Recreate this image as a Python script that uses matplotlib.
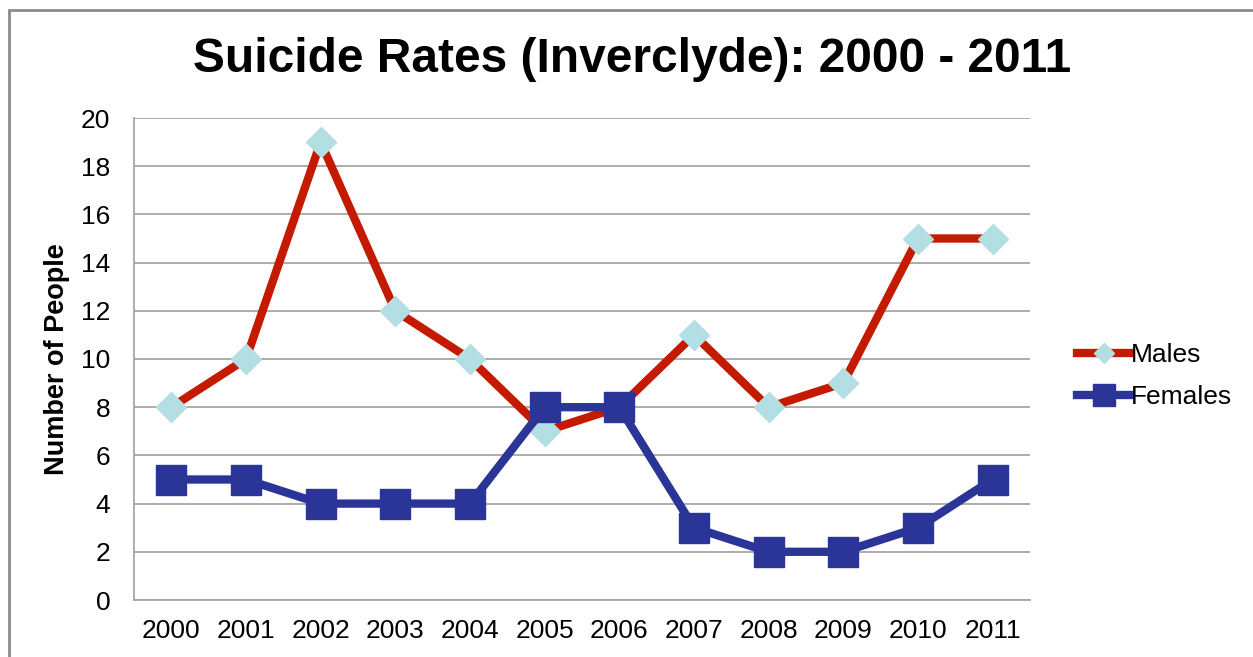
import matplotlib
matplotlib.use("Agg")
import matplotlib.pyplot as plt
from matplotlib.patches import Rectangle

years = ["2000", "2001", "2002", "2003", "2004", "2005", "2006", "2007", "2008", "2009", "2010", "2011"]
males = [8, 10, 19, 12, 10, 7, 8, 11, 8, 9, 15, 15]
females = [5, 5, 4, 4, 4, 8, 8, 3, 2, 2, 3, 5]
yticks = [0, 2, 4, 6, 8, 10, 12, 14, 16, 18, 20]

plt.rcParams['font.family'] = ['Liberation Sans', 'DejaVu Sans']

fig = plt.figure(figsize=(12.53, 6.57), dpi=100)
ax = fig.add_axes([134/1253, 1 - 600/657, (1030 - 134)/1253, (600 - 118)/657])

x = list(range(len(years)))
ax.plot(x, males, color='#C41A00', lw=6, marker='D', ms=15,
        mfc='#B3DEE3', mec='#B3DEE3', label='Males', zorder=3)
ax.plot(x, females, color='#2B3497', lw=6, marker='s', ms=22,
        mfc='#2B3497', mec='#2B3497', label='Females', zorder=4)

ax.set_xlim(-0.5, len(years) - 0.5)
ax.set_ylim(0, 20)
ax.set_yticks(yticks)
ax.set_xticks(x)
ax.set_xticklabels(years)
ax.tick_params(axis='both', length=0, labelsize=19, colors='black')
ax.tick_params(axis='y', pad=17)
ax.tick_params(axis='x', pad=14)
ax.yaxis.grid(True, color='#A6A6A6', lw=1.3)
ax.set_axisbelow(True)
for s in ['top', 'right']:
    ax.spines[s].set_visible(False)
for s in ['left', 'bottom']:
    ax.spines[s].set_color('#A6A6A6')
    ax.spines[s].set_linewidth(1.3)

ax.set_ylabel('Number of People', fontsize=19.5, fontweight='bold', labelpad=8)

fig.text(632/1253, 1 - 60/657, 'Suicide Rates (Inverclyde): 2000 - 2011',
         ha='center', va='center', fontsize=34.5, fontweight='bold')

leg = fig.legend(loc='center left', bbox_to_anchor=(1064/1253, 1 - 376/657),
                 frameon=False, fontsize=19, handlelength=2.0, handletextpad=0.02,
                 labelspacing=0.7, markerscale=0.7, borderpad=0)

fig.patches.append(Rectangle((9/1253, -0.05), 1.1, 1 - 10/657 + 0.05,
                             transform=fig.transFigure, fill=False,
                             edgecolor='#8C8C8C', lw=2))

fig.savefig('out.png', dpi=100)
